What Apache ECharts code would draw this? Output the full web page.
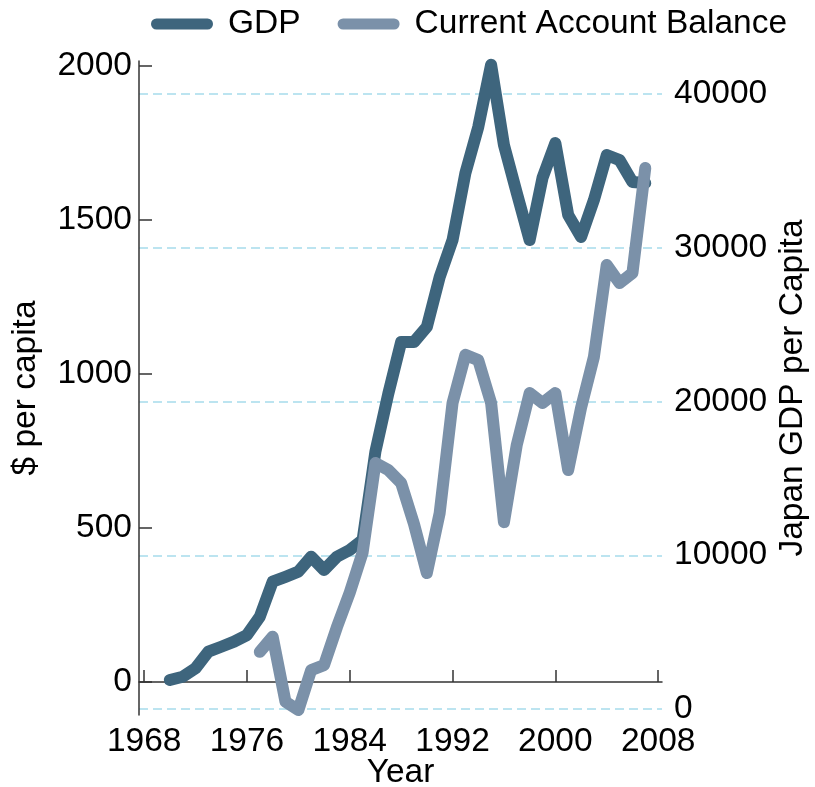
<!DOCTYPE html>
<html>
<head>
<meta charset="utf-8">
<script src="https://cdn.jsdelivr.net/npm/echarts@6/dist/echarts.min.js"></script>
<style>
  html, body { margin: 0; padding: 0; background: #fff; }
  #chart { width: 815px; height: 787px; }
</style>
</head>
<body>
<div id="chart"></div>
<script>
// values
var gdpYears = [1970, 1971, 1972, 1973, 1974, 1975, 1976, 1977, 1978, 1979,
                1980, 1981, 1982, 1983, 1984, 1985, 1986, 1987, 1988, 1989,
                1990, 1991, 1992, 1993, 1994, 1995, 1996, 1997, 1998, 1999,
                2000, 2001, 2002, 2003, 2004, 2005, 2006, 2007];
var gdpValues = [1890, 2100, 2650, 3730, 4050, 4380, 4810, 6000, 8280, 8600,
                 8930, 9900, 9040, 9900, 10340, 10990, 16750, 20500, 23870, 23870,
                 24850, 28100, 30500, 34860, 37850, 41900, 36680, 33560, 30500, 34540,
                 36810, 32130, 30700, 33100, 36030, 35700, 34280, 34210];

var caYears = [1977, 1978, 1979, 1980, 1981, 1982, 1983, 1984, 1985, 1986,
               1987, 1988, 1989, 1990, 1991, 1992, 1993, 1994, 1995, 1996,
               1997, 1998, 1999, 2000, 2001, 2002, 2003, 2004, 2005, 2006, 2007];
var caValues = [98, 147, -64, -91, 39, 55, 178, 290, 420, 711,
                688, 646, 513, 354, 549, 906, 1062, 1045, 906, 519,
                770, 938, 906, 938, 688, 890, 1055, 1354, 1295, 1328, 1669];

var yearTicks = [1968, 1976, 1984, 1992, 2000, 2008];
var leftTicks = [0, 500, 1000, 1500, 2000];
var rightTicks = [0, 10000, 20000, 30000, 40000];

var font = "'Liberation Sans', Arial, Helvetica, sans-serif";
var fontSize = 33.5;
var axisColor = '#333333';

function pairs(xs, ys) {
    return xs.map(function (x, i) { return [x, ys[i]]; });
}

var pillIcon = 'path://M5.5,0 L56.5,0 A5.5,5.5 0 0 1 56.5,11 L5.5,11 A5.5,5.5 0 0 1 5.5,0 Z';

var chart = echarts.init(document.getElementById('chart'));

var option = {
    animation: false,
    textStyle: { fontFamily: font },
    legend: {
        top: 7,
        left: 151,
        padding: 0,
        itemWidth: 62,
        itemHeight: 11,
        itemGap: 37,
        textStyle: { fontSize: fontSize, color: '#000', fontFamily: font, padding: [0, 0, 0, 10] },
        data: [
            { name: 'GDP', icon: pillIcon },
            { name: 'Current Account Balance', icon: pillIcon }
        ]
    },
    grid: { left: 139, right: 153, top: 61, bottom: 72, outerBoundsMode: 'none' },
    xAxis: {
        type: 'value',
        min: 1967.6,
        max: 2008.3,
        name: 'Year',
        nameLocation: 'middle',
        nameGap: 41,
        nameMoveOverlap: false,
        nameTextStyle: { fontSize: fontSize, color: '#000', fontFamily: font },
        axisLine: { show: true, lineStyle: { color: axisColor, width: 1.5 } },
        axisTick: { show: true, inside: true, length: 12, customValues: yearTicks,
                    lineStyle: { color: axisColor, width: 1.5 } },
        axisLabel: { customValues: yearTicks, fontSize: fontSize, color: '#000', margin: 10,
                     formatter: function (v) { return String(v); } },
        splitLine: { show: false }
    },
    yAxis: [
        {
            type: 'value',
            position: 'left',
            min: -107,
            max: 2016,
            name: '$ per capita',
            nameLocation: 'middle',
            nameGap: 96,
            nameRotate: 90,
            nameMoveOverlap: false,
            nameTextStyle: { fontSize: fontSize, color: '#000', fontFamily: font },
            axisLine: { show: true, lineStyle: { color: axisColor, width: 1.5 } },
            axisTick: { show: true, inside: true, length: 13, customValues: leftTicks,
                        lineStyle: { color: axisColor, width: 1.5 } },
            axisLabel: { customValues: leftTicks, fontSize: fontSize, color: '#000', margin: 7,
                         formatter: function (v) { return String(v); } },
            splitLine: { show: false }
        },
        {
            type: 'value',
            position: 'right',
            min: -390,
            max: 42146,
            name: 'Japan GDP per Capita',
            nameLocation: 'middle',
            nameGap: 114,
            nameRotate: 90,
            nameMoveOverlap: false,
            nameTextStyle: { fontSize: fontSize, color: '#000', fontFamily: font },
            axisLine: { show: false },
            axisTick: { show: false, customValues: rightTicks },
            axisLabel: { customValues: rightTicks, fontSize: fontSize, color: '#000', margin: 12,
                         formatter: function (v) { return String(v); } },
            splitLine: { show: true, lineStyle: { color: '#a6dcec', width: 1.5, type: [9, 5] } }
        }
    ],
    series: [
        {
            name: 'GDP',
            type: 'line',
            yAxisIndex: 1,
            data: pairs(gdpYears, gdpValues),
            showSymbol: false,
            symbol: 'none',
            color: '#3e657d',
            lineStyle: { width: 12, color: '#3e657d', cap: 'round', join: 'round' },
            z: 3
        },
        {
            name: 'Current Account Balance',
            type: 'line',
            yAxisIndex: 0,
            data: pairs(caYears, caValues),
            showSymbol: false,
            symbol: 'none',
            color: '#7b91a9',
            lineStyle: { width: 12, color: '#7b91a9', cap: 'round', join: 'round' },
            z: 4
        }
    ]
};

chart.setOption(option);
</script>
</body>
</html>
